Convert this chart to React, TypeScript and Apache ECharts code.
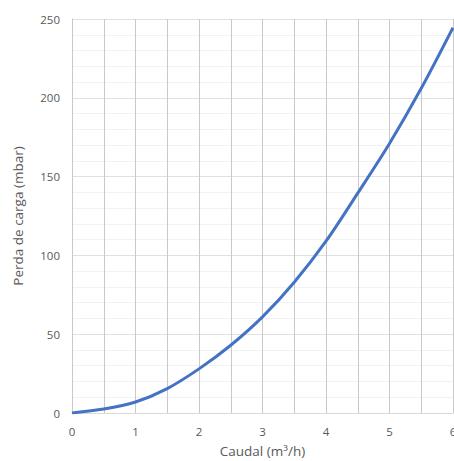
import React, { useEffect, useRef } from "react";
import * as echarts from "echarts";

const flowValues = [0, 0.5, 1, 1.5, 2, 2.5, 3, 3.5, 4, 4.5, 5, 5.5, 6];
const lossValues = [0, 2.5, 7, 15.5, 28, 43, 61, 83, 109, 139.5, 171, 206, 244.5];
const xAxisTitle = "Caudal (m³/h)";
const yAxisTitle = "Perda de carga (mbar)";

export default function App() {
  const ref = useRef<HTMLDivElement>(null);
  useEffect(() => {
    document.body.style.margin = "0";
    const chart = echarts.init(ref.current!, null, { renderer: "svg" });
    const font = "'Open Sans', 'Noto Sans', sans-serif";
    chart.setOption({
      animation: false,
      textStyle: { fontFamily: font },
      grid: {
        left: 72,
        right: 1,
        top: 19,
        bottom: 48,
        containLabel: false,
        outerBoundsMode: "none",
      },
      xAxis: {
        type: "value",
        min: 0,
        max: 6,
        interval: 0.5,
        name: xAxisTitle,
        nameLocation: "middle",
        nameGap: 31,
        nameTextStyle: { color: "#595959", fontSize: 13.5, fontFamily: font },
        axisLine: { show: true, lineStyle: { color: "#d9d9d9" } },
        axisTick: { show: false },
        axisLabel: {
          color: "#595959",
          fontSize: 11.5,
          margin: 12,
          fontFamily: font,
          formatter: (v: number) => (Number.isInteger(v) ? String(v) : ""),
        },
        splitLine: { show: true, lineStyle: { color: "#c9c9c9", width: 1 } },
      },
      yAxis: {
        type: "value",
        min: 0,
        max: 250,
        interval: 50,
        name: yAxisTitle,
        nameLocation: "middle",
        nameGap: 47,
        nameTextStyle: { color: "#595959", fontSize: 13.5, fontFamily: font },
        axisLine: { show: true, lineStyle: { color: "#c9c9c9" } },
        axisTick: { show: false },
        axisLabel: { color: "#595959", fontSize: 11.5, margin: 12, fontFamily: font },
        splitLine: { show: true, lineStyle: { color: "#e0e0e0", width: 1 } },
        minorTick: { show: false, splitNumber: 5 },
        minorSplitLine: { show: true, lineStyle: { color: "#f2f2f2", width: 1 } },
      },
      series: [
        {
          type: "line",
          data: flowValues.map((x, i) => [x, lossValues[i]]),
          smooth: 0.3,
          showSymbol: false,
          lineStyle: { color: "#4472C4", width: 3 },
          itemStyle: { color: "#4472C4" },
        },
      ],
    });
    return () => chart.dispose();
  }, []);
  return <div ref={ref} style={{ width: 454, height: 461 }} />;
}
